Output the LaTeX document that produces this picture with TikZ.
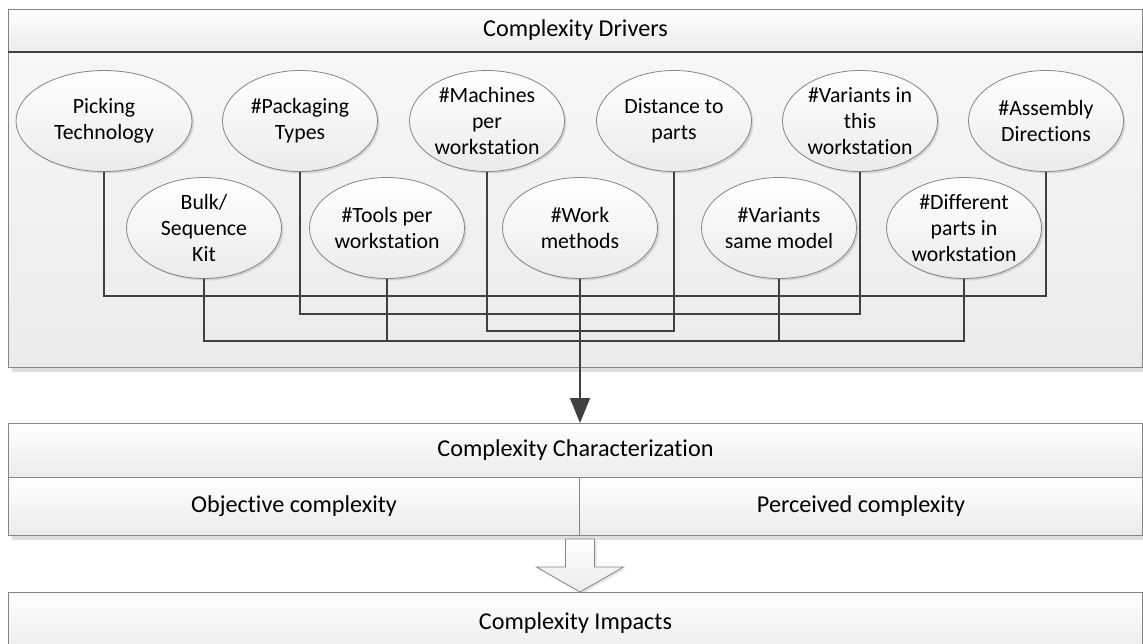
\documentclass[tikz,border=0pt]{standalone}
\usepackage{fontspec}
\setmainfont{Carlito}[Ligatures=NoCommon]
\usetikzlibrary{shapes.geometric,shadows,arrows.meta}

\definecolor{linegray}{HTML}{404040}
\definecolor{edgegray}{HTML}{858585}
\definecolor{fillgray}{HTML}{EBEBEB}

\tikzset{
    txt/.style={font=\fontsize{24.2pt}{29pt}\selectfont, align=center},
    driver/.style={font=\fontsize{21.8pt}{26pt}\selectfont, align=center, ellipse, draw=edgegray, line width=.8pt,
        top color=white, bottom color=fillgray,
        minimum width=155pt, minimum height=101pt, inner sep=-1pt,
        drop shadow={shadow xshift=2pt, shadow yshift=-2pt, opacity=.25}},
    band/.style={txt, rectangle, draw=edgegray, line width=1pt, top color=white, bottom color=fillgray,
        inner sep=0pt, anchor=north west},
    link/.style={draw=linegray, line width=1.5pt},
}

\begin{document}
\begin{tikzpicture}[x=1pt, y=-1pt]
\useasboundingbox (0,0) rectangle (1143,643);

\node[band, minimum width=1134pt, minimum height=316pt, top color=white!60!fillgray,
    drop shadow={shadow xshift=3pt, shadow yshift=-4pt, opacity=.25}] (driverbody) at (8,51) {};
\node[band, minimum width=1134pt, minimum height=42pt] (drivers) at (8,9) {Complexity Drivers};
\draw[link] (drivers.south west) -- (drivers.south east);

\node[driver, minimum width=176pt] (pick) at (104,121) {Picking\\Technology};
\node[driver] (pack)     at (300,121) {\#Packaging\\Types};
\node[driver] (mach)     at (487,121) {\#Machines\\per\\workstation};
\node[driver] (dist)     at (674,121) {Distance to\\parts};
\node[driver] (varthis)  at (860,121) {\#Variants in\\this\\workstation};
\node[driver] (asm)      at (1046,121) {\#Assembly\\Directions};

\node[driver] (bulk)      at (204,228) {Bulk/\\Sequence\\Kit};
\node[driver] (tools)     at (387,228) {\#Tools per\\workstation};
\node[driver] (work)      at (580,228) {\#Work\\methods};
\node[driver] (varsame)   at (779,228) {\#Variants\\same model};
\node[driver] (diffparts) at (964,228) {\#Different\\parts in\\workstation};

\coordinate (lvA) at (0,296);
\coordinate (lvB) at (0,314);
\coordinate (lvC) at (0,331);
\coordinate (lvD) at (0,341);

\draw[link] (pick.south) |- (asm.south |- lvA) -- (asm.south);
\draw[link] (pack.south) |- (varthis.south |- lvB) -- (varthis.south);
\draw[link] (mach.south) |- (dist.south |- lvC) -- (dist.south);
\draw[link] (bulk.south) |- (diffparts.south |- lvD) -- (diffparts.south);
\draw[link] (tools.south) -- (tools.south |- lvD);
\draw[link] (varsame.south) -- (varsame.south |- lvD);

\node[band, minimum width=571pt, minimum height=58pt,
    drop shadow={shadow xshift=3pt, shadow yshift=-4pt, opacity=.25}] (objective) at (8,477) {Objective complexity};
\node[band, minimum width=563pt, minimum height=58pt,
    drop shadow={shadow xshift=3pt, shadow yshift=-4pt, opacity=.25}] (perceived) at (579,477) {Perceived complexity};
\node[band, minimum width=1134pt, minimum height=54pt] (character) at (8,423) {Complexity Characterization};

\draw[link, -{Triangle[length=25pt, width=20pt]}] (work.south) -- (work.south |- character.north);

\node[band, minimum width=1134pt, minimum height=62pt] (impacts) at (8,592) {Complexity Impacts};

\coordinate (tip) at (objective.south east |- impacts.north);
\draw[draw=edgegray, line width=.8pt, top color=white, bottom color=fillgray,
    drop shadow={shadow xshift=2pt, shadow yshift=-2pt, opacity=.2}]
    (tip) -- ++(-43.5,-25) -- ++(29,0) -- ++(0,-28) -- ++(29,0) -- ++(0,28) -- ++(29,0) -- cycle;

\end{tikzpicture}
\end{document}
